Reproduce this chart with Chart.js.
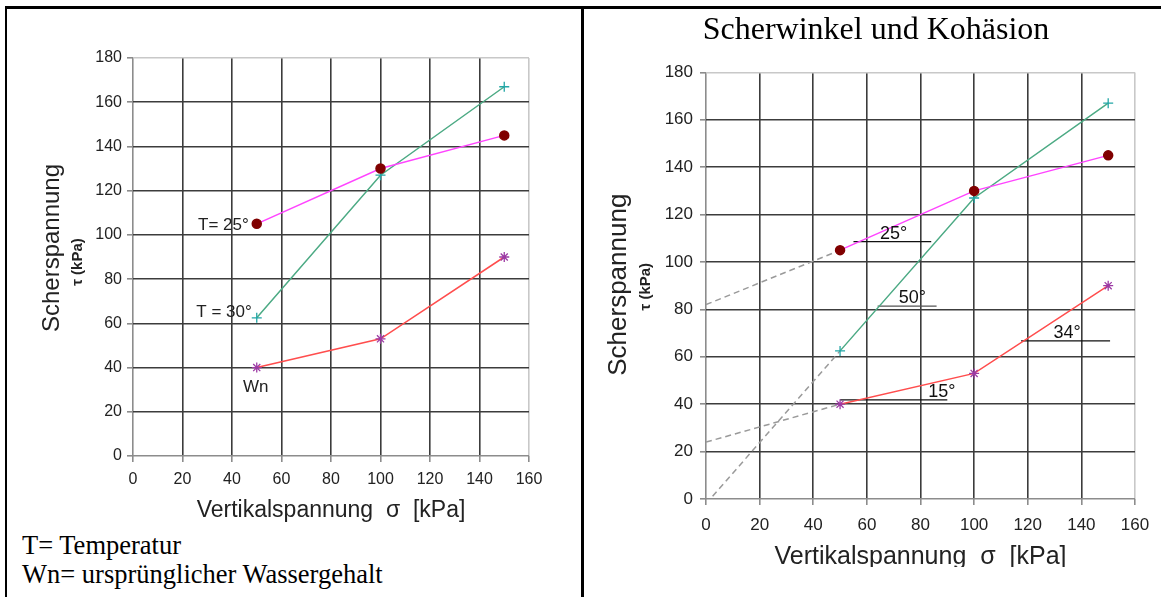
<!DOCTYPE html>
<html lang="de">
<head>
<meta charset="utf-8">
<title>Scherwinkel und Kohäsion</title>
<script src="https://cdn.jsdelivr.net/npm/chart.js@4.4.1/dist/chart.umd.min.js"></script>
<style>
  html, body { margin: 0; padding: 0; background: #fff; }
  body { width: 1161px; height: 597px; position: relative; overflow: hidden; }
  .rule { position: absolute; background: #000; }
  #left  { position: absolute; left: 0; top: 0; }
  #rightWrap { position: absolute; left: 584px; top: 0; width: 577px; height: 567px; overflow: hidden; }
  #right { position: absolute; left: 0; top: 0; }
  .notes {
    position: absolute; left: 22px; top: 531px;
    font-family: "Liberation Serif", "Times New Roman", serif;
    font-size: 26.5px; line-height: 29px; color: #000;
  }
</style>
</head>
<body>
<canvas id="left" width="583" height="530"></canvas>
<div id="rightWrap"><canvas id="right" width="577" height="597"></canvas></div>

<div class="rule" style="left:5px; top:6px; width:1156px; height:3px;"></div>
<div class="rule" style="left:5px; top:6px; width:2px; height:591px;"></div>
<div class="rule" style="left:581px; top:6px; width:3px; height:591px;"></div>

<div class="notes">T= Temperatur<br>Wn= ursprünglicher Wassergehalt</div>

<script>
// ───────── Messwerte ─────────
const sigma  = [50, 100, 150];          // Vertikalspannung [kPa]
const tauT25 = [105, 130, 145];         // T = 25°
const tauT30 = [62.5, 127, 167];        // T = 30°
const tauWn  = [40, 53, 90];            // Wn

// Beschriftungen im linken Diagramm
const seriesNames = ['T= 25°', 'T = 30°', 'Wn'];

// Verlängerungen bis zur τ-Achse (gestrichelt)
const extT25 = [{ x: 0, y: 82 }, { x: 50, y: 105 }];
const extT30 = [{ x: 0, y: -2 }, { x: 50, y: 62.5 }];
const extWn  = [{ x: 0, y: 24 }, { x: 50, y: 40 }];

// Winkelmarkierungen: Text, Höhe, Anfang/Ende der Horizontalen, Textmitte
const angleText = ['25°', '50°', '15°', '34°'];
const angleY    = [108.6, 81.4, 41.8, 66.7];
const angleX0   = [55, 64, 50, 117.5];
const angleX1   = [84, 86, 90, 150.7];
const angleMidX = [70, 77, 88, 134.7];

const xTicks = [0, 20, 40, 60, 80, 100, 120, 140, 160];
const yTicks = [0, 20, 40, 60, 80, 100, 120, 140, 160, 180];

const C_T25  = '#ff44ff';
const C_DOT  = '#800000';
const C_T30  = '#4caa84';
const C_PLUS = '#22a6a6';
const C_WN   = '#ff4d4d';
const C_STAR = '#9c3aa4';

const pts = ys => sigma.map((x, i) => ({ x, y: ys[i] }));

function seriesSets() {
  return [
    { data: pts(tauT25), borderColor: C_T25, borderWidth: 1.5,
      pointStyle: 'circle', pointRadius: 4.5, pointBackgroundColor: C_DOT, pointBorderColor: C_DOT },
    { data: pts(tauT30), borderColor: C_T30, borderWidth: 1.5,
      pointStyle: 'cross', pointRadius: 5, pointBorderColor: C_PLUS, pointBorderWidth: 1.3 },
    { data: pts(tauWn), borderColor: C_WN, borderWidth: 1.5,
      pointStyle: 'star', pointRadius: 5, pointBorderColor: C_STAR, pointBorderWidth: 1.3 }
  ];
}

function gridColor(max) {
  return ctx => {
    const v = ctx.tick ? ctx.tick.value : null;
    if (v === 0) return '#8c8c8c';
    if (v === max) return '#c8c8c8';
    return '#3c3c3c';
  };
}

function scales(o) {
  return {
    x: {
      type: 'linear', min: 0, max: 160,
      afterBuildTicks: s => { s.ticks = xTicks.map(v => ({ value: v })); },
      afterFit: s => { s.height = o.xHeight; },
      border: { display: false },
      grid: { color: gridColor(160), lineWidth: 1.6, tickLength: 6, tickColor: '#8c8c8c' },
      ticks: { color: '#222', padding: o.xTickPad, maxRotation: 0,
               font: { family: 'Liberation Sans, Arial', size: o.tickSize } },
      title: { display: true, text: 'Vertikalspannung  σ  [kPa]', color: '#222',
               padding: { top: 0, bottom: o.xTitlePad },
               font: { family: 'Liberation Sans, Arial', size: o.xTitleSize } }
    },
    y: {
      type: 'linear', min: 0, max: 180,
      afterBuildTicks: s => { s.ticks = yTicks.map(v => ({ value: v })); },
      afterFit: s => { s.width = o.yWidth; },
      border: { display: false },
      grid: { color: gridColor(180), lineWidth: 1.6, tickLength: 6, tickColor: '#8c8c8c' },
      ticks: { color: '#222', padding: o.yTickPad,
               font: { family: 'Liberation Sans, Arial', size: o.tickSize } }
    }
  };
}

// senkrechte Achsentitel: „Scherspannung“ und darunter „τ (kPa)“
function yTitlePlugin(o) {
  return {
    id: 'yTitle',
    afterDraw(chart) {
      const { ctx, chartArea: a } = chart;
      const cy = (a.top + a.bottom) / 2;
      ctx.save();
      ctx.fillStyle = '#222';
      ctx.textAlign = 'center';
      ctx.textBaseline = 'middle';
      ctx.translate(a.left - o.mainDx, cy + o.mainDy);
      ctx.rotate(-Math.PI / 2);
      ctx.font = o.mainSize + 'px "Liberation Sans", Arial';
      ctx.fillText('Scherspannung', 0, 0);
      ctx.restore();
      ctx.save();
      ctx.fillStyle = '#222';
      ctx.textAlign = 'center';
      ctx.textBaseline = 'middle';
      ctx.translate(a.left - o.subDx, cy + o.subDy);
      ctx.rotate(-Math.PI / 2);
      ctx.font = 'bold ' + o.subSize + 'px "Liberation Sans", Arial';
      ctx.fillText('τ (kPa)', 0, 0);
      ctx.restore();
    }
  };
}

// ───────── linkes Diagramm ─────────
const seriesLabels = {
  id: 'seriesLabels',
  afterDatasetsDraw(chart) {
    const { ctx } = chart;
    const xs = chart.scales.x, ys = chart.scales.y;
    const px = xs.getPixelForValue(sigma[0]);
    ctx.save();
    ctx.fillStyle = '#222';
    ctx.font = '17px "Liberation Sans", Arial';
    ctx.textBaseline = 'middle';
    ctx.textAlign = 'right';
    ctx.fillText(seriesNames[0], px - 8, ys.getPixelForValue(tauT25[0]) + 1);
    ctx.fillText(seriesNames[1], px - 5, ys.getPixelForValue(tauT30[0]) - 5);
    ctx.textAlign = 'center';
    ctx.fillText(seriesNames[2], px - 1, ys.getPixelForValue(tauWn[0]) + 20);
    ctx.restore();
  }
};

new Chart(document.getElementById('left'), {
  type: 'line',
  data: { datasets: seriesSets() },
  options: {
    responsive: false, animation: false, devicePixelRatio: 1,
    layout: { padding: { left: 0, right: 54, top: 58, bottom: 0 } },
    plugins: { legend: { display: false }, tooltip: { enabled: false } },
    scales: scales({ xHeight: 74, yWidth: 133, xTickPad: 8, yTickPad: 5,
                     tickSize: 16, xTitleSize: 23, xTitlePad: 6 })
  },
  plugins: [seriesLabels, yTitlePlugin({ mainDx: 81, mainDy: -9, mainSize: 24,
                                         subDx: 55, subDy: 5, subSize: 15 })]
});

// ───────── rechtes Diagramm ─────────
const angleLabels = {
  id: 'angleLabels',
  afterDatasetsDraw(chart) {
    const { ctx } = chart;
    const xs = chart.scales.x, ys = chart.scales.y;
    ctx.save();
    ctx.fillStyle = '#111';
    ctx.font = '18px "Liberation Sans", Arial';
    ctx.textAlign = 'center';
    ctx.textBaseline = 'bottom';
    angleText.forEach((t, i) => {
      ctx.fillText(t, xs.getPixelForValue(angleMidX[i]), ys.getPixelForValue(angleY[i]) + 1);
    });
    ctx.restore();
  }
};

const dashed = data => ({ data, borderColor: '#9a9a9a', borderWidth: 1.5,
                          borderDash: [6, 4], pointRadius: 0 });
const angleLines = angleText.map((t, i) => ({
  data: [{ x: angleX0[i], y: angleY[i] }, { x: angleX1[i], y: angleY[i] }],
  borderColor: i === 1 ? '#555' : '#111', borderWidth: 1.2, pointRadius: 0
}));

new Chart(document.getElementById('right'), {
  type: 'line',
  data: { datasets: [...seriesSets(), dashed(extT25), dashed(extT30), dashed(extWn), ...angleLines] },
  options: {
    responsive: false, animation: false, devicePixelRatio: 1,
    layout: { padding: { left: 33, right: 26, top: 0, bottom: 0 } },
    plugins: {
      legend: { display: false }, tooltip: { enabled: false },
      title: { display: true, text: 'Scherwinkel und Kohäsion', color: '#000',
               padding: { top: 11, bottom: 23 },
               font: { family: 'Liberation Serif, Times New Roman', size: 32, weight: 'normal' } }
    },
    scales: scales({ xHeight: 98, yWidth: 89, xTickPad: 10, yTickPad: 7,
                     tickSize: 17, xTitleSize: 25, xTitlePad: 25 })
  },
  plugins: [angleLabels, yTitlePlugin({ mainDx: 87, mainDy: -1, mainSize: 26,
                                        subDx: 60, subDy: 1, subSize: 15 })]
});
</script>
</body>
</html>
